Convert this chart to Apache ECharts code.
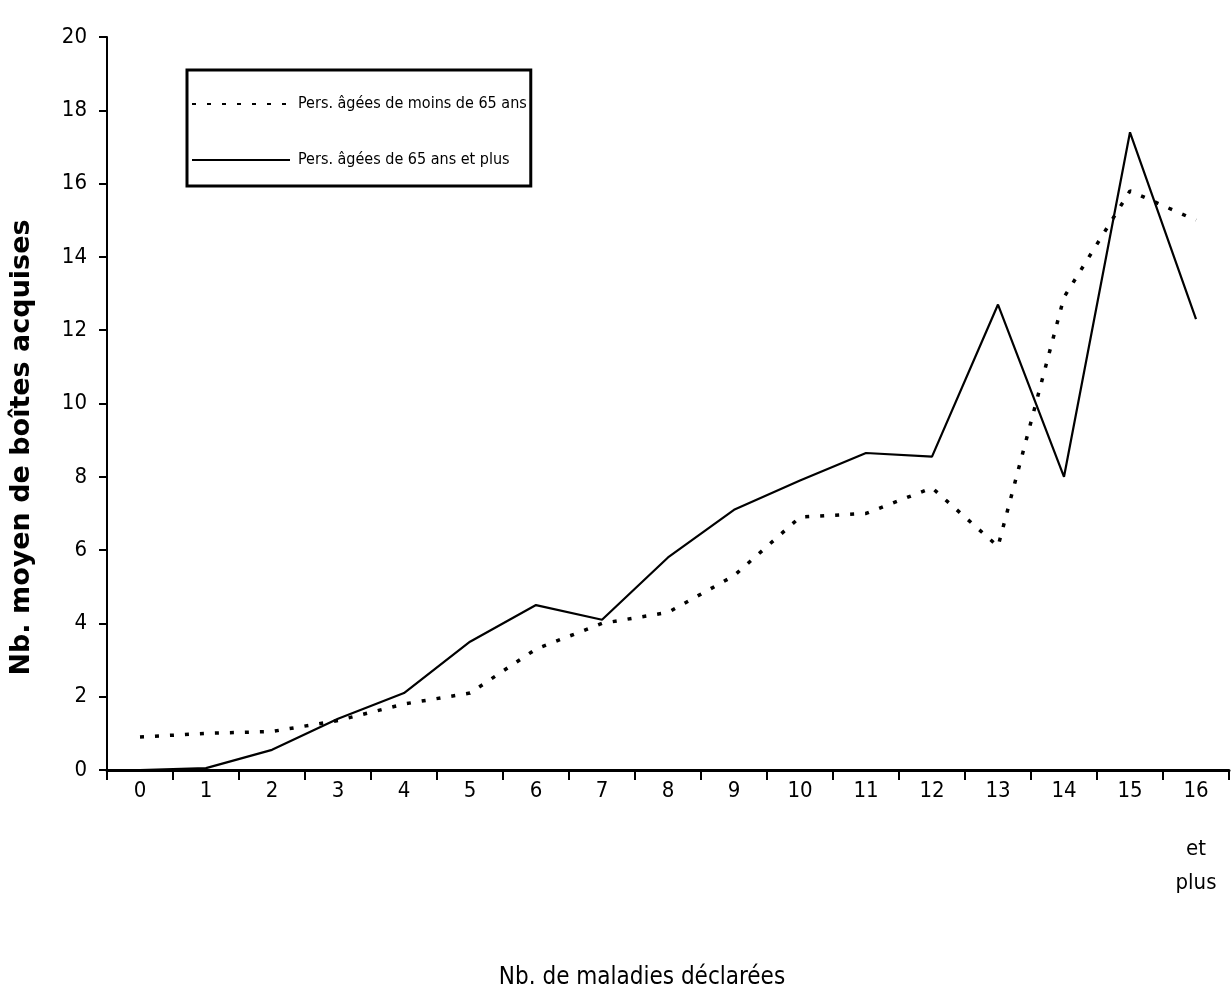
<!DOCTYPE html>
<html>
<head>
<meta charset="utf-8">
<script src="https://cdn.jsdelivr.net/npm/echarts@6/dist/echarts.min.js"></script>
<style>html,body{margin:0;padding:0;background:#fff}#c{width:1231px;height:1002px}</style>
</head>
<body>
<div id="c"></div>
<script>
const categories = ['0','1','2','3','4','5','6','7','8','9','10','11','12','13','14','15','16'];
const moinsDe65 = [0.9, 1.0, 1.05, 1.35, 1.8, 2.1, 3.3, 4.0, 4.3, 5.3, 6.9, 7.0, 7.7, 6.1, 12.9, 15.8, 15.0];
const plusDe65 = [0, 0.05, 0.55, 1.4, 2.1, 3.5, 4.5, 4.1, 5.8, 7.1, 7.9, 8.65, 8.55, 12.7, 8.0, 17.4, 12.3];
const seriesNames = ['Pers. âgées de moins de 65 ans', 'Pers. âgées de 65 ans et plus'];
const lastLabelExtra = ['et', 'plus'];
const yTitle = 'Nb. moyen de boîtes acquises';
const xTitle = 'Nb. de maladies déclarées';

const narrow = '"DejaVu Sans Condensed", "Liberation Sans Narrow", sans-serif';
const chart = echarts.init(document.getElementById('c'));
chart.setOption({
  animation: false,
  backgroundColor: '#fff',
  grid: { left: 107, right: 2, top: 37, bottom: 232, containLabel: false, outerBoundsMode: 'none' },
  legend: {
    orient: 'vertical',
    left: 187, top: 70,
    data: seriesNames,
    itemWidth: 98, itemHeight: 10, itemGap: 40,
    padding: [26, 4, 18, 4],
    borderColor: '#000', borderWidth: 3,
    itemStyle: { opacity: 0 },
    textStyle: { fontFamily: narrow, fontSize: 16, color: '#000', padding: [0, 0, 0, 3] }
  },
  xAxis: {
    type: 'category',
    data: categories,
    boundaryGap: true,
    name: xTitle,
    nameLocation: 'middle',
    nameGap: 196,
    nameTextStyle: { fontFamily: narrow, fontSize: 24, color: '#000', padding: [0, 52, 0, 0] },
    axisLine: { lineStyle: { color: '#000', width: 3 } },
    axisTick: { show: true, length: 10, interval: 0, lineStyle: { color: '#000', width: 2 } },
    axisLabel: {
      interval: 0,
      margin: 9, color: '#000', fontFamily: narrow, fontSize: 22, lineHeight: 24,
      formatter: function (v, i) {
        return i === categories.length - 1
          ? v + '\n{g| }\n{t|' + lastLabelExtra[0] + '}\n{t|' + lastLabelExtra[1] + '}'
          : v;
      },
      rich: {
        g: { lineHeight: 29, fontSize: 4 },
        t: { lineHeight: 34, fontSize: 22, fontFamily: narrow, color: '#000' }
      }
    },
    splitLine: { show: false }
  },
  yAxis: {
    type: 'value',
    min: 0, max: 20, interval: 2,
    name: yTitle,
    nameLocation: 'middle',
    nameGap: 72,
    nameRotate: 90,
    nameTextStyle: { fontFamily: '"DejaVu Sans", sans-serif', fontWeight: 'bold', fontSize: 27, color: '#000', padding: [0, 88, 0, 0] },
    axisLine: { show: true, lineStyle: { color: '#000', width: 2 } },
    axisTick: { show: true, length: 8, lineStyle: { color: '#000', width: 2 } },
    axisLabel: { margin: 20, color: '#000', fontFamily: narrow, fontSize: 22 },
    splitLine: { show: false }
  },
  series: [
    {
      name: seriesNames[0], type: 'line', data: moinsDe65,
      symbol: 'none', smooth: false,
      lineStyle: { color: '#000', width: 3.5, type: [4, 11] },
      itemStyle: { color: '#000' }
    },
    {
      name: seriesNames[1], type: 'line', data: plusDe65,
      symbol: 'none', smooth: false,
      lineStyle: { color: '#000', width: 2.2, type: 'solid' },
      itemStyle: { color: '#000' }
    }
  ]
});
</script>
</body>
</html>
